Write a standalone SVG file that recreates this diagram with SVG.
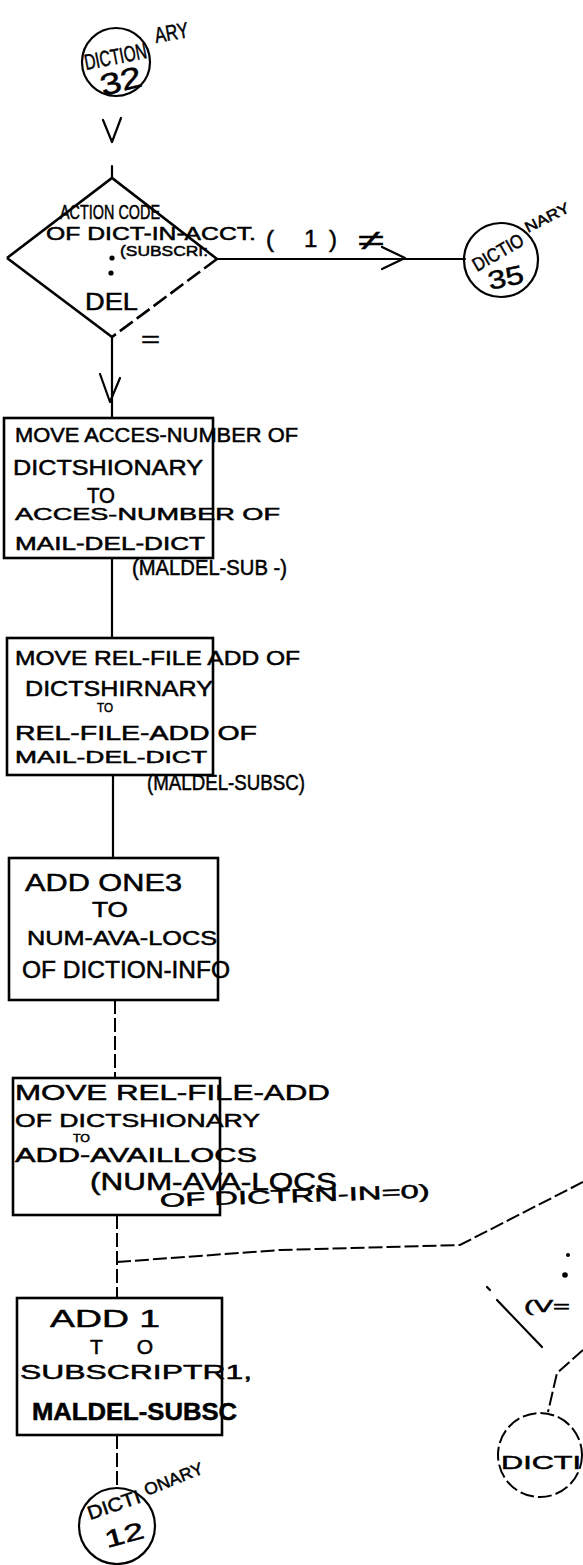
<svg xmlns="http://www.w3.org/2000/svg" width="583" height="1565" viewBox="0 0 583 1565">
<style>
.t{font-family:"Liberation Sans",Arial,"DejaVu Sans",sans-serif;fill:#000;stroke:#000;stroke-width:0.5;}
.s{fill:none;stroke:#000;stroke-width:2.2;stroke-linecap:round;stroke-linejoin:round;}
.b{fill:none;stroke:#000;stroke-width:2.6;}
.d{fill:none;stroke:#000;stroke-width:2;stroke-dasharray:14 4;}
.bold{font-weight:bold;}
</style>
<rect width="583" height="1565" fill="#fff"/>

<g id="connectors">
  <polyline class="s" points="103,120 112,142 121,118"/>
  <line class="s" x1="112" y1="166" x2="112" y2="178"/>
  <line class="s" x1="217" y1="259" x2="465" y2="259"/>
  <polyline class="s" points="382,247 405,258 382,269"/>
  <line class="s" x1="112" y1="337" x2="112" y2="418"/>
  <polyline class="s" points="100,374 110,402 120,378"/>
  <line class="s" x1="112" y1="558" x2="112" y2="638"/>
  <line class="s" x1="113" y1="775" x2="113" y2="858"/>
  <line class="d" x1="115" y1="1000" x2="115" y2="1078"/>
  <line class="d" x1="117" y1="1215" x2="117" y2="1298"/>
  <path class="d" d="M117,1262 L280,1250 L460,1245 L583,1182"/>
  <line class="d" x1="117" y1="1435" x2="117" y2="1488"/>
  <path class="d" d="M583,1350 L557,1373 L548,1412"/>
</g>

<g id="n-start">
  <circle class="s" cx="116" cy="62" r="34"/>
  <text class="t" x="86" y="70" font-size="22" textLength="63" lengthAdjust="spacingAndGlyphs" transform="rotate(-11 86 70)">DICTION</text>
  <text class="t" x="156" y="43" font-size="22" textLength="34" lengthAdjust="spacingAndGlyphs" transform="rotate(-10 156 43)">ARY</text>
  <text class="t" x="103" y="96" font-size="30" textLength="42" lengthAdjust="spacingAndGlyphs" transform="rotate(-14 103 96)">32</text>
</g>

<g id="n-decision">
  <path class="b" d="M7,258 L112,178 L217,259"/>
  <path class="b" d="M7,258 L112,337"/>
  <path class="b" d="M217,259 L112,337" stroke-dasharray="16 5"/>
  <text class="t" x="60" y="219" font-size="20" textLength="100" lengthAdjust="spacingAndGlyphs">ACTION CODE</text>
  <text class="t" x="46" y="240" font-size="18" textLength="210" lengthAdjust="spacingAndGlyphs">OF DICT-IN-ACCT.</text>
  <text class="t" x="266" y="247" font-size="24" textLength="71" lengthAdjust="spacing">( 1)</text>
  <text class="t" x="120" y="256" font-size="15" textLength="88" lengthAdjust="spacingAndGlyphs">(SUBSCRI:</text>
  <circle cx="112" cy="258" r="2.6" fill="#000"/>
  <circle cx="111" cy="273" r="2.6" fill="#000"/>
  <text class="t" x="85" y="310" font-size="24" textLength="53" lengthAdjust="spacingAndGlyphs">DEL</text>
  <text class="t" x="358" y="250" font-size="28" textLength="26" lengthAdjust="spacingAndGlyphs">≠</text>
  <text class="t" x="141" y="347" font-size="22" textLength="19" lengthAdjust="spacingAndGlyphs">=</text>
</g>

<g id="n-exit35">
  <circle class="s" cx="501" cy="260" r="37"/>
  <text class="t" x="477" y="272" font-size="19" textLength="56" lengthAdjust="spacingAndGlyphs" transform="rotate(-30 477 272)">DICTIO</text>
  <text class="t" x="528" y="233" font-size="15" textLength="48" lengthAdjust="spacingAndGlyphs" transform="rotate(-27 528 233)">NARY</text>
  <text class="t" x="490" y="290" font-size="26" textLength="36" lengthAdjust="spacingAndGlyphs" transform="rotate(-12 490 290)">35</text>
</g>

<g id="n-box1">
  <rect class="b" x="4" y="418" width="209" height="140"/>
  <text class="t" x="15" y="442" font-size="20" textLength="283" lengthAdjust="spacingAndGlyphs">MOVE ACCES-NUMBER OF</text>
  <text class="t" x="13" y="475" font-size="22" textLength="190" lengthAdjust="spacingAndGlyphs">DICTSHIONARY</text>
  <text class="t" x="87" y="503" font-size="22" textLength="28" lengthAdjust="spacingAndGlyphs">TO</text>
  <text class="t" x="15" y="520" font-size="17" textLength="265" lengthAdjust="spacingAndGlyphs">ACCES-NUMBER OF</text>
  <text class="t" x="15" y="550" font-size="18" textLength="190" lengthAdjust="spacingAndGlyphs">MAIL-DEL-DICT</text>
  <text class="t" x="132" y="575" font-size="22" textLength="155" lengthAdjust="spacingAndGlyphs">(MALDEL-SUB -)</text>
</g>

<g id="n-box2">
  <rect class="b" x="7" y="638" width="206" height="137"/>
  <text class="t" x="15" y="665" font-size="20" textLength="285" lengthAdjust="spacingAndGlyphs">MOVE REL-FILE ADD OF</text>
  <text class="t" x="25" y="696" font-size="22" textLength="188" lengthAdjust="spacingAndGlyphs">DICTSHIRNARY</text>
  <text class="t" x="97" y="712" font-size="13" textLength="16" lengthAdjust="spacingAndGlyphs">TO</text>
  <text class="t" x="15" y="740" font-size="20" textLength="242" lengthAdjust="spacingAndGlyphs">REL-FILE-ADD OF</text>
  <text class="t" x="15" y="763" font-size="17" textLength="192" lengthAdjust="spacingAndGlyphs">MAIL-DEL-DICT</text>
  <text class="t" x="147" y="790" font-size="22" textLength="158" lengthAdjust="spacingAndGlyphs">(MALDEL-SUBSC)</text>
</g>

<g id="n-box3">
  <rect class="b" x="9" y="858" width="209" height="142"/>
  <text class="t" x="25" y="891" font-size="24" textLength="157" lengthAdjust="spacingAndGlyphs">ADD ONE3</text>
  <text class="t" x="92" y="917" font-size="22" textLength="36" lengthAdjust="spacingAndGlyphs">TO</text>
  <text class="t" x="27" y="945" font-size="20" textLength="190" lengthAdjust="spacingAndGlyphs">NUM-AVA-LOCS</text>
  <text class="t" x="22" y="978" font-size="23" textLength="208" lengthAdjust="spacingAndGlyphs">OF DICTION-INFO</text>
</g>

<g id="n-box4">
  <rect class="b" x="13" y="1078" width="207" height="137"/>
  <text class="t" x="15" y="1100" font-size="22" textLength="315" lengthAdjust="spacingAndGlyphs">MOVE REL-FILE-ADD</text>
  <text class="t" x="15" y="1127" font-size="19" textLength="245" lengthAdjust="spacingAndGlyphs">OF DICTSHIONARY</text>
  <text class="t" x="73" y="1142" font-size="11" textLength="17" lengthAdjust="spacingAndGlyphs">TO</text>
  <text class="t" x="15" y="1162" font-size="20" textLength="242" lengthAdjust="spacingAndGlyphs">ADD-AVAILLOCS</text>
  <text class="t" x="90" y="1190" font-size="23" textLength="247" lengthAdjust="spacingAndGlyphs">(NUM-AVA-LOCS</text>
  <text class="t" x="160" y="1207" font-size="19" textLength="270" lengthAdjust="spacingAndGlyphs" transform="rotate(-2 160 1207)">OF DICTRN-IN=0)</text>
</g>

<g id="n-right-fragment">
  <line class="s" x1="487" y1="1287" x2="490" y2="1290"/>
  <line class="s" x1="497" y1="1300" x2="542" y2="1347"/>
  <circle cx="568" cy="1255" r="2" fill="#000"/>
  <circle cx="565" cy="1275" r="2.8" fill="#000"/>
  <text class="t" x="524" y="1312" font-size="16" textLength="46" lengthAdjust="spacingAndGlyphs">(V=</text>
</g>

<g id="n-right-circle">
  <circle class="d" cx="540" cy="1455" r="42"/>
  <text class="t" x="501" y="1469" font-size="19" textLength="80" lengthAdjust="spacingAndGlyphs">DICTI</text>
</g>

<g id="n-box5">
  <rect class="b" x="17" y="1298" width="205" height="137"/>
  <text class="t" x="50" y="1327" font-size="24" textLength="110" lengthAdjust="spacingAndGlyphs">ADD 1</text>
  <text class="t" x="90" y="1354" font-size="21" textLength="63" lengthAdjust="spacing">T O</text>
  <text class="t" x="20" y="1379" font-size="21" textLength="232" lengthAdjust="spacingAndGlyphs">SUBSCRIPTR1,</text>
  <text class="t bold" x="32" y="1420" font-size="23" textLength="205" lengthAdjust="spacingAndGlyphs">MALDEL-SUBSC</text>
</g>

<g id="n-end12">
  <circle class="s" cx="117" cy="1526" r="38"/>
  <text class="t" x="90" y="1520" font-size="19" textLength="55" lengthAdjust="spacingAndGlyphs" transform="rotate(-19 90 1520)">DICTI</text>
  <text class="t" x="147" y="1496" font-size="17" textLength="62" lengthAdjust="spacingAndGlyphs" transform="rotate(-22 147 1496)">ONARY</text>
  <text class="t" x="107" y="1548" font-size="24" textLength="40" lengthAdjust="spacingAndGlyphs" transform="rotate(-15 107 1548)">12</text>
</g>
</svg>
